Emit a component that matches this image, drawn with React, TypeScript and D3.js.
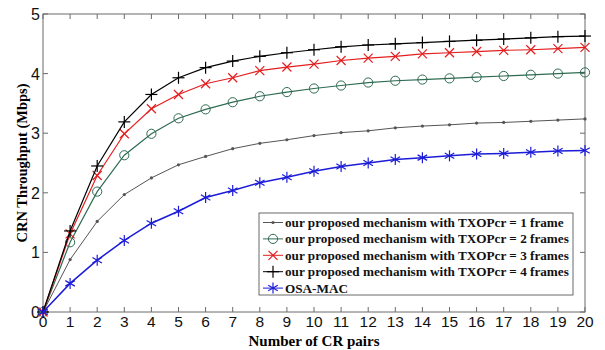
import React, { useEffect, useRef } from 'react';
import * as d3 from 'd3';

// number of CR pairs
const pairs = [0, 1, 2, 3, 4, 5, 6, 7, 8, 9, 10, 11, 12, 13, 14, 15, 16, 17, 18, 19, 20];

const txop1 = [0, 0.88, 1.52, 1.97, 2.25, 2.47, 2.61, 2.74, 2.83, 2.89, 2.96, 3.01, 3.04, 3.09, 3.12, 3.14, 3.17, 3.18, 3.2, 3.22, 3.24];
const txop2 = [0, 1.17, 2.02, 2.63, 2.99, 3.25, 3.4, 3.52, 3.62, 3.69, 3.75, 3.8, 3.85, 3.88, 3.9, 3.92, 3.94, 3.96, 3.98, 4.0, 4.02];
const txop3 = [0, 1.31, 2.29, 2.99, 3.41, 3.65, 3.83, 3.93, 4.05, 4.11, 4.16, 4.22, 4.26, 4.29, 4.33, 4.35, 4.37, 4.39, 4.4, 4.42, 4.44];
const txop4 = [0, 1.36, 2.45, 3.19, 3.65, 3.93, 4.1, 4.21, 4.29, 4.35, 4.4, 4.45, 4.48, 4.5, 4.52, 4.54, 4.56, 4.58, 4.6, 4.62, 4.63];
const osaMac = [0, 0.48, 0.87, 1.2, 1.49, 1.69, 1.92, 2.04, 2.17, 2.26, 2.36, 2.44, 2.5, 2.56, 2.59, 2.62, 2.65, 2.66, 2.68, 2.7, 2.71];

const seriesNames = [
    'our proposed mechanism with TXOPcr = 1 frame',
    'our proposed mechanism with TXOPcr = 2 frames',
    'our proposed mechanism with TXOPcr = 3 frames',
    'our proposed mechanism with TXOPcr = 4 frames',
    'OSA-MAC',
];
const seriesValues = [txop1, txop2, txop3, txop4, osaMac];
const seriesColors = ['#555555', '#2f6b52', '#e41e1e', '#000000', '#1c1cd8'];
const seriesMarkers = ['dot', 'circle', 'x', 'plus', 'star'];

const xTicks = pairs;
const yTicks = [0, 1, 2, 3, 4, 5];

const W = 605, H = 350;
const margin = { top: 14, right: 20, bottom: 38, left: 43 };

const drawMarker = (g, type, cx, cy, color) => {
    if (type === 'dot') {
        g.append('circle').attr('cx', cx).attr('cy', cy).attr('r', 1.6).attr('fill', color);
    } else if (type === 'circle') {
        g.append('circle').attr('cx', cx).attr('cy', cy).attr('r', 4.6)
            .attr('fill', 'none').attr('stroke', color).attr('stroke-width', 1);
    } else {
        const s = type === 'x' ? 4.5 : 6;
        const angles = type === 'plus' ? [0, 90] : type === 'x' ? [45, 135] : [0, 60, 120];
        angles.forEach(a => {
            const r = (a * Math.PI) / 180;
            const len = type === 'star' ? 5.5 : type === 'x' ? s * Math.SQRT2 : s;
            g.append('line')
                .attr('x1', cx - len * Math.sin(r)).attr('y1', cy - len * Math.cos(r))
                .attr('x2', cx + len * Math.sin(r)).attr('y2', cy + len * Math.cos(r))
                .attr('stroke', color).attr('stroke-width', 1.2);
        });
    }
};

const App = () => {
    const svgRef = useRef(null);

    useEffect(() => {
        const svg = d3.select(svgRef.current);
        svg.selectAll('*').remove();

        const x = d3.scaleLinear().domain([0, 20]).range([margin.left, W - margin.right]);
        const y = d3.scaleLinear().domain([0, 5]).range([H - margin.bottom, margin.top]);
        const axisColor = '#6b6b6b';

        svg.append('rect').attr('width', W).attr('height', H).attr('fill', '#fff');

        // box with inward ticks on all four sides
        const box = svg.append('g');
        box.append('rect')
            .attr('x', x(0)).attr('y', y(5))
            .attr('width', x(20) - x(0)).attr('height', y(0) - y(5))
            .attr('fill', 'none').attr('stroke', axisColor).attr('stroke-width', 1);
        xTicks.forEach(t => {
            box.append('line').attr('x1', x(t)).attr('x2', x(t)).attr('y1', y(0)).attr('y2', y(0) - 5).attr('stroke', axisColor);
            box.append('line').attr('x1', x(t)).attr('x2', x(t)).attr('y1', y(5)).attr('y2', y(5) + 5).attr('stroke', axisColor);
        });
        yTicks.forEach(t => {
            box.append('line').attr('x1', x(0)).attr('x2', x(0) + 5).attr('y1', y(t)).attr('y2', y(t)).attr('stroke', axisColor);
            box.append('line').attr('x1', x(20)).attr('x2', x(20) - 5).attr('y1', y(t)).attr('y2', y(t)).attr('stroke', axisColor);
        });

        const tickFont = "'Liberation Sans', Arial, sans-serif";
        svg.append('g').selectAll('text').data(xTicks).join('text')
            .attr('x', d => x(d)).attr('y', y(0) + 15)
            .attr('text-anchor', 'middle')
            .style('font-family', tickFont).style('font-size', '15.5px').attr('fill', '#111')
            .text(d => d);
        svg.append('g').selectAll('text').data(yTicks).join('text')
            .attr('x', x(0) - 3).attr('y', d => y(d) + 6)
            .attr('text-anchor', 'end')
            .style('font-family', tickFont).style('font-size', '16px').attr('fill', '#111')
            .text(d => d);

        const labelFont = "'Liberation Serif', 'Times New Roman', serif";
        svg.append('text')
            .attr('x', (x(0) + x(20)) / 2).attr('y', 346)
            .attr('text-anchor', 'middle')
            .style('font-family', labelFont).style('font-size', '15px').style('font-weight', 'bold')
            .text('Number of CR pairs');
        svg.append('text')
            .attr('transform', `translate(27,${(y(0) + y(5)) / 2}) rotate(-90)`)
            .attr('text-anchor', 'middle')
            .style('font-family', labelFont).style('font-size', '14.5px').style('font-weight', 'bold')
            .text('CRN Throughput (Mbps)');

        const line = d3.line().x((d, i) => x(pairs[i])).y(d => y(d));

        seriesValues.forEach((vals, si) => {
            const g = svg.append('g');
            g.append('path').attr('d', line(vals))
                .attr('fill', 'none').attr('stroke', seriesColors[si])
                .attr('stroke-width', si === 4 ? 1.5 : si === 0 ? 1 : 1.2);
            vals.forEach((v, i) => drawMarker(g, seriesMarkers[si], x(pairs[i]), y(v), seriesColors[si]));
        });

        // legend
        const lg = svg.append('g');
        const lx = 259, ly = 213, lw = 314, lh = 82, rowH = 16.4;
        lg.append('rect').attr('x', lx).attr('y', ly).attr('width', lw).attr('height', lh)
            .attr('fill', '#fff').attr('stroke', axisColor).attr('stroke-width', 1);
        seriesNames.forEach((name, i) => {
            const cy = ly + 9.5 + i * rowH;
            lg.append('line').attr('x1', lx + 4).attr('x2', lx + 24).attr('y1', cy).attr('y2', cy)
                .attr('stroke', seriesColors[i]).attr('stroke-width', 1);
            drawMarker(lg, seriesMarkers[i], lx + 14, cy, seriesColors[i]);
            lg.append('text')
                .attr('x', lx + 26).attr('y', cy + 4.5)
                .style('font-family', labelFont).style('font-size', '13.2px').style('font-weight', 'bold')
                .attr('fill', '#111')
                .text(name);
        });
    }, []);

    return (
        <svg ref={svgRef} width={W} height={H} style={{ position: 'absolute', left: 0, top: 0 }}></svg>
    );
};

export default App;
